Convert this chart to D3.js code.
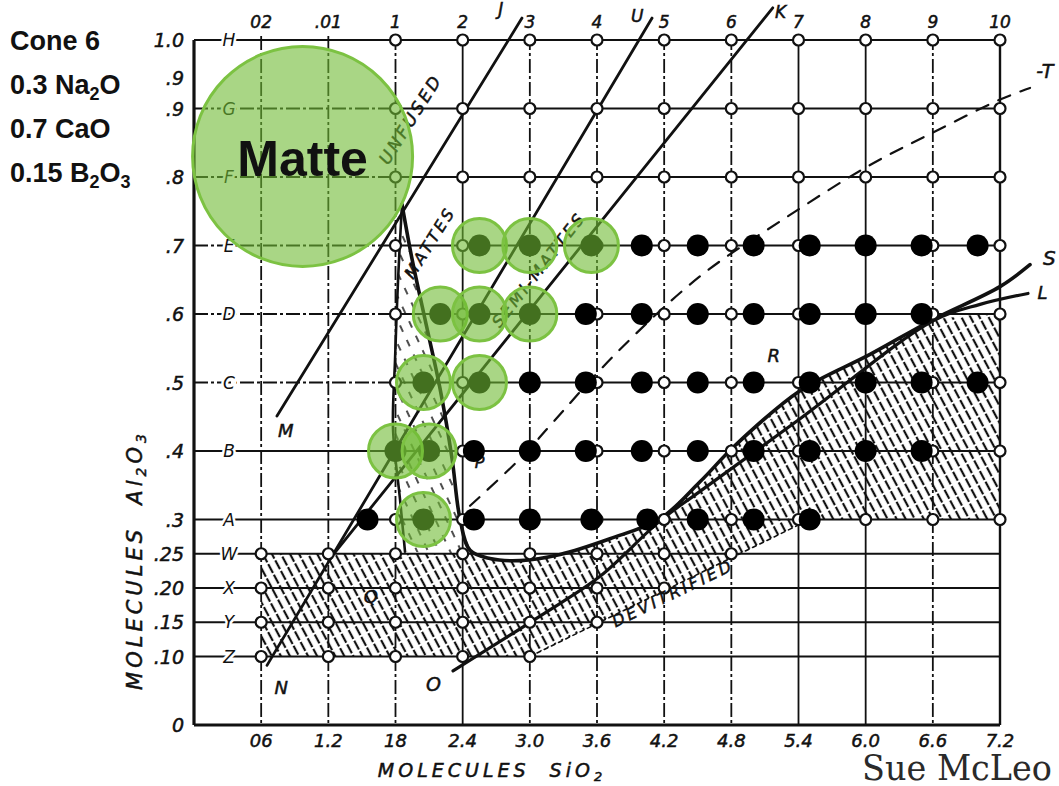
<!DOCTYPE html>
<html>
<head>
<meta charset="utf-8">
<title>Stull chart - Cone 6 matte tests</title>
<script src="https://cdn.jsdelivr.net/npm/d3@7/dist/d3.min.js"></script>
<style>
  body { margin: 0; background: #fff; }
  svg { display: block; }
  .hand { font-family: "DejaVu Sans", sans-serif; font-style: italic; fill: #111; stroke: #111; stroke-width: 0.5; }
  .bold { font-family: "Liberation Sans", Arial, sans-serif; font-weight: bold; fill: #111; }
</style>
</head>
<body>
<svg width="1059" height="786"></svg>
<script>
// axis ticks and labels
const xTicks = [0.6, 1.2, 1.8, 2.4, 3.0, 3.6, 4.2, 4.8, 5.4, 6.0, 6.6, 7.2];
const xTickLabels = ["06", "1.2", "18", "2.4", "3.0", "3.6", "4.2", "4.8", "5.4", "6.0", "6.6", "7.2"];
const topLabels = ["02", ".01", "1", "2", "3", "4", "5", "6", "7", "8", "9", "10"];
const yTicks = [1.0, 0.945, 0.9, 0.8, 0.7, 0.6, 0.5, 0.4, 0.3, 0.25, 0.20, 0.15, 0.10, 0];
const yTickLabels = ["1.0", ".9", ".9", ".8", ".7", ".6", ".5", ".4", ".3", ".25", ".20", ".15", ".10", "0"];
const rowValues = [1.0, 0.9, 0.8, 0.7, 0.6, 0.5, 0.4, 0.3, 0.25, 0.20, 0.15, 0.10];
const rowLetters = ["H", "G", "F", "E", "D", "C", "B", "A", "W", "X", "Y", "Z"];
const dashedCols = [0.6, 1.2, 1.8, 3.0, 3.6, 4.2, 4.8, 6.6];

// open circles on the lower rows [SiO2, Al2O3]
const lowGridPoints = [
  [0.6, 0.25], [0.6, 0.20], [0.6, 0.15], [0.6, 0.10],
  [1.2, 0.25], [1.2, 0.20], [1.2, 0.15], [1.2, 0.10],
  [1.8, 0.25], [1.8, 0.20], [1.8, 0.15], [1.8, 0.10],
  [2.4, 0.25], [2.4, 0.20], [2.4, 0.15], [2.4, 0.10],
  [3.0, 0.25], [3.0, 0.20], [3.0, 0.15], [3.0, 0.10],
  [3.6, 0.25], [3.6, 0.20], [3.6, 0.15],
  [4.2, 0.25], [4.2, 0.20], [4.8, 0.25]
];

// test glazes, by alumina row
const testRows = [0.7, 0.6, 0.5, 0.4, 0.3];
const matteSiO2 = [
  [2.55, 3.0, 3.55],
  [2.2, 2.55, 3.0],
  [2.05, 2.55],
  [1.8, 2.1],
  [2.05]
];
const glossSiO2 = [
  [4.0, 4.5, 5.0, 5.5, 6.0, 6.5, 7.0],
  [3.5, 4.0, 4.5, 5.0, 5.5, 6.0, 6.5],
  [3.0, 3.5, 4.0, 4.5, 5.0, 5.5, 6.0, 6.5, 7.0],
  [2.5, 3.0, 3.5, 4.0, 4.5, 5.0, 5.5, 6.0, 6.5],
  [1.55, 2.5, 3.0, 3.55, 4.05, 4.5, 5.0, 5.5]
];
const matteZone = { sio2: 0.97, al2o3: 0.83 };

// Stull chart boundaries [SiO2, Al2O3]
const lineJ = [[0.741, 0.451], [2.930, 1.032]];
const lineU = [[0.652, 0.087], [4.092, 1.032]];
const lineK = [[1.215, 0.243], [5.170, 1.047]];
const curveS = [
  [1.858, 0.760], [1.948, 0.680], [2.064, 0.592], [2.198, 0.491], [2.305, 0.389],
  [2.376, 0.301], [2.466, 0.255], [2.644, 0.243], [2.912, 0.240], [3.270, 0.249],
  [3.716, 0.272], [4.163, 0.301], [4.520, 0.355], [4.833, 0.408], [5.414, 0.488],
  [6.039, 0.541], [6.602, 0.592], [7.200, 0.640], [7.468, 0.672]
];
const wedgeLeft = [[1.858, 0.760], [1.823, 0.651], [1.796, 0.534], [1.778, 0.432], [1.840, 0.330], [1.885, 0.253]];
const curveL = [
  [2.314, 0.079], [3.091, 0.159], [3.627, 0.217], [4.163, 0.298], [4.520, 0.341],
  [5.414, 0.447], [6.602, 0.590], [7.022, 0.614], [7.450, 0.630]
];
const curveT = [
  [2.466, 0.320], [2.939, 0.393], [3.180, 0.437], [3.779, 0.544], [4.520, 0.655],
  [5.262, 0.738], [6.012, 0.815], [6.602, 0.865], [7.200, 0.913], [7.468, 0.930]
];
const devitLine = [[3.0, 0.10], [5.5, 0.30]];

const svg = d3.select("svg");
const x = d3.scaleLinear().domain([0, 7.2]).range([194, 1000]);
const y = d3.scaleLinear().domain([0, 1]).range([725, 40]);
const straight = d3.line().x(d => x(d[0])).y(d => y(d[1]));
const smooth = d3.line().x(d => x(d[0])).y(d => y(d[1])).curve(d3.curveCatmullRom.alpha(0.5));

// hatch patterns
const defs = svg.append("defs");
const hp = defs.append("pattern").attr("id", "hatch")
  .attr("patternUnits", "userSpaceOnUse").attr("width", 8).attr("height", 12)
  .attr("patternTransform", "rotate(-28)");
hp.append("line").attr("x1", 4).attr("y1", 0).attr("x2", 4).attr("y2", 12)
  .attr("stroke", "#111").attr("stroke-width", 2.2).attr("stroke-dasharray", "10,2");
const hl = defs.append("pattern").attr("id", "hatchLight")
  .attr("patternUnits", "userSpaceOnUse").attr("width", 10).attr("height", 16)
  .attr("patternTransform", "rotate(-25)");
hl.append("line").attr("x1", 5).attr("y1", 0).attr("x2", 5).attr("y2", 16)
  .attr("stroke", "#222").attr("stroke-width", 1.6).attr("stroke-dasharray", "7,9");

// hatched areas
const hatchArea = [[0.6, 0.25], [2.43, 0.25]]
  .concat(curveS.slice(6, 17))
  .concat([[7.2, 0.603], [7.2, 0.3], devitLine[1], devitLine[0], [0.6, 0.10]]);
svg.append("path").attr("d", straight(hatchArea) + "Z").attr("fill", "url(#hatch)");
const wedge = wedgeLeft.concat([[2.43, 0.25]]).concat(curveS.slice(0, 7).reverse());
svg.append("path").attr("d", straight(wedge) + "Z").attr("fill", "url(#hatchLight)");

// grid
const grid = svg.append("g").attr("stroke", "#111").attr("fill", "none");
rowValues.forEach(v => {
  const dashedLeft = v >= 0.5 && v <= 0.9;
  grid.append("line").attr("x1", x(0)).attr("x2", x(dashedLeft ? 1.8 : 7.2))
    .attr("y1", y(v)).attr("y2", y(v)).attr("stroke-width", 2)
    .attr("stroke-dasharray", dashedLeft ? "14,3,3,3" : null);
  if (dashedLeft) {
    grid.append("line").attr("x1", x(1.8)).attr("x2", x(7.2))
      .attr("y1", y(v)).attr("y2", y(v)).attr("stroke-width", 2);
  }
});
xTicks.forEach(v => {
  grid.append("line").attr("x1", x(v)).attr("x2", x(v))
    .attr("y1", y(1.0) - 4).attr("y2", y(0))
    .attr("stroke-width", 1.8)
    .attr("stroke-dasharray", dashedCols.includes(v) ? "14,3,3,3" : null);
});
// axes frame
grid.append("line").attr("x1", x(0)).attr("x2", x(0)).attr("y1", y(1.0)).attr("y2", y(0)).attr("stroke-width", 3.2);
grid.append("line").attr("x1", x(0)).attr("x2", x(7.2)).attr("y1", y(0)).attr("y2", y(0)).attr("stroke-width", 3);
grid.append("line").attr("x1", x(7.2)).attr("x2", x(7.2)).attr("y1", y(1.0)).attr("y2", y(0)).attr("stroke-width", 2.4);

// boundary lines
const bl = svg.append("g").attr("fill", "none").attr("stroke", "#111").attr("stroke-linecap", "round");
[lineJ, lineU, lineK].forEach(l => bl.append("path").attr("d", straight(l)).attr("stroke-width", 2.8));
bl.append("path").attr("d", smooth(curveS)).attr("stroke-width", 3.6);
bl.append("path").attr("d", smooth(wedgeLeft)).attr("stroke-width", 2.6);
bl.append("path").attr("d", smooth(curveL)).attr("stroke-width", 3.2);
bl.append("path").attr("d", smooth(curveT)).attr("stroke-width", 2.2).attr("stroke-dasharray", "13,11");
bl.append("path").attr("d", straight(devitLine)).attr("stroke-width", 1.6).attr("stroke-dasharray", "4,4");

// open circles at grid intersections
const upperGrid = [];
rowValues.filter(v => v >= 0.3).forEach(v => xTicks.filter(t => t >= 1.8).forEach(t => upperGrid.push([t, v])));
svg.append("g").selectAll("circle").data(upperGrid.concat(lowGridPoints)).join("circle")
  .attr("cx", d => x(d[0])).attr("cy", d => y(d[1])).attr("r", 5.5)
  .attr("fill", "#fff").attr("stroke", "#111").attr("stroke-width", 2.2);

// row letters on the grid lines
svg.append("g").selectAll("text").data(rowValues).join("text")
  .attr("class", "hand").attr("x", 229).attr("y", d => y(d) + 6)
  .attr("text-anchor", "middle").attr("font-size", 17)
  .style("stroke", "#fff").style("stroke-width", 5).attr("paint-order", "stroke")
  .text((d, i) => rowLetters[i]);

// tick labels
svg.append("g").selectAll("text").data(yTicks).join("text")
  .attr("class", "hand").attr("x", 184).attr("y", d => y(d) + 7)
  .attr("text-anchor", "end").attr("font-size", 19)
  .text((d, i) => yTickLabels[i]);
svg.append("g").selectAll("text").data(xTicks).join("text")
  .attr("class", "hand").attr("x", d => x(d)).attr("y", 747)
  .attr("text-anchor", "middle").attr("font-size", 18)
  .text((d, i) => xTickLabels[i]);
svg.append("g").selectAll("text").data(xTicks).join("text")
  .attr("class", "hand").attr("x", d => x(d)).attr("y", 28)
  .attr("text-anchor", "middle").attr("font-size", 17)
  .text((d, i) => topLabels[i]);

// axis titles
svg.append("text").attr("class", "hand").attr("x", 492).attr("y", 777)
  .attr("text-anchor", "middle").attr("font-size", 19).attr("letter-spacing", 4)
  .html('MOLECULES&#160;&#160;SiO<tspan dy="4" font-size="13">2</tspan>');
svg.append("text").attr("class", "hand")
  .attr("transform", "translate(142,560) rotate(-90)")
  .attr("text-anchor", "middle").attr("font-size", 21).attr("letter-spacing", 4)
  .html('MOLECULES&#160;&#160;Al<tspan dy="4" font-size="14">2</tspan><tspan dy="-4">O</tspan><tspan dy="4" font-size="14">3</tspan>');

// handwritten chart annotations
const notes = [
  { t: "J", p: [2.74, 1.037], r: 0, s: 17 },
  { t: "U", p: [3.96, 1.026], r: 0, s: 17 },
  { t: "K", p: [5.24, 1.032], r: 0, s: 17 },
  { t: "-T", p: [7.60, 0.945], r: 0, s: 19 },
  { t: "S", p: [7.64, 0.672], r: 0, s: 20 },
  { t: "L", p: [7.58, 0.622], r: 0, s: 18 },
  { t: "M", p: [0.82, 0.420], r: 0, s: 18 },
  { t: "N", p: [0.78, 0.045], r: 0, s: 18 },
  { t: "O", p: [2.14, 0.050], r: 0, s: 19 },
  { t: "Q", p: [1.58, 0.178], r: 0, s: 18 },
  { t: "P", p: [2.55, 0.375], r: 0, s: 16 },
  { t: "R", p: [5.18, 0.530], r: 0, s: 18 },
  { t: "UNFUSED", p: [1.98, 0.880], r: -58, s: 17 },
  { t: "MATTES", p: [2.15, 0.700], r: -58, s: 16 },
  { t: "SEMI-MATTES", p: [3.12, 0.660], r: -52, s: 16 },
  { t: "DEVITRIFIED", p: [4.30, 0.185], r: -26, s: 16 }
];
svg.append("g").selectAll("text").data(notes).join("text")
  .attr("class", "hand").attr("text-anchor", "middle")
  .attr("font-size", d => d.s).attr("letter-spacing", d => d.t.length > 2 ? 3 : 0)
  .attr("transform", d => `translate(${x(d.p[0])},${y(d.p[1])}) rotate(${d.r})`)
  .text(d => d.t);

// test glaze dots
const allTests = [];
testRows.forEach((al, i) => {
  matteSiO2[i].forEach(s => allTests.push({ s, al, matte: true }));
  glossSiO2[i].forEach(s => allTests.push({ s, al, matte: false }));
});
svg.append("g").selectAll("circle").data(allTests).join("circle")
  .attr("cx", d => x(d.s)).attr("cy", d => y(d.al)).attr("r", 11).attr("fill", "#000");
svg.append("g").selectAll("circle").data(allTests.filter(d => d.matte)).join("circle")
  .attr("cx", d => x(d.s)).attr("cy", d => y(d.al)).attr("r", 27)
  .attr("fill", "rgba(112,186,52,0.6)").attr("stroke", "#7cc242").attr("stroke-width", 3);

// matte zone
svg.append("circle").attr("cx", x(matteZone.sio2)).attr("cy", y(matteZone.al2o3)).attr("r", 110)
  .attr("fill", "rgba(112,186,52,0.6)").attr("stroke", "#7cc242").attr("stroke-width", 3);
svg.append("text").attr("class", "bold").attr("x", x(matteZone.sio2)).attr("y", 176)
  .attr("text-anchor", "middle").attr("font-size", 50).text("Matte");

// recipe block
const recipe = svg.append("g").attr("class", "bold").attr("font-size", 27);
recipe.append("text").attr("x", 10).attr("y", 50).text("Cone 6");
recipe.append("text").attr("x", 10).attr("y", 94)
  .html('0.3 Na<tspan dy="6" font-size="18">2</tspan><tspan dy="-6">O</tspan>');
recipe.append("text").attr("x", 10).attr("y", 138).text("0.7 CaO");
recipe.append("text").attr("x", 10).attr("y", 182)
  .html('0.15 B<tspan dy="6" font-size="18">2</tspan><tspan dy="-6">O</tspan><tspan dy="6" font-size="18">3</tspan>');

// credit
svg.append("text").attr("x", 862).attr("y", 780)
  .attr("font-family", "'DejaVu Serif', serif").attr("font-size", 36).attr("fill", "#2a2a2a")
  .attr("textLength", 190).attr("lengthAdjust", "spacingAndGlyphs")
  .text("Sue McLeo");
</script>
</body>
</html>
